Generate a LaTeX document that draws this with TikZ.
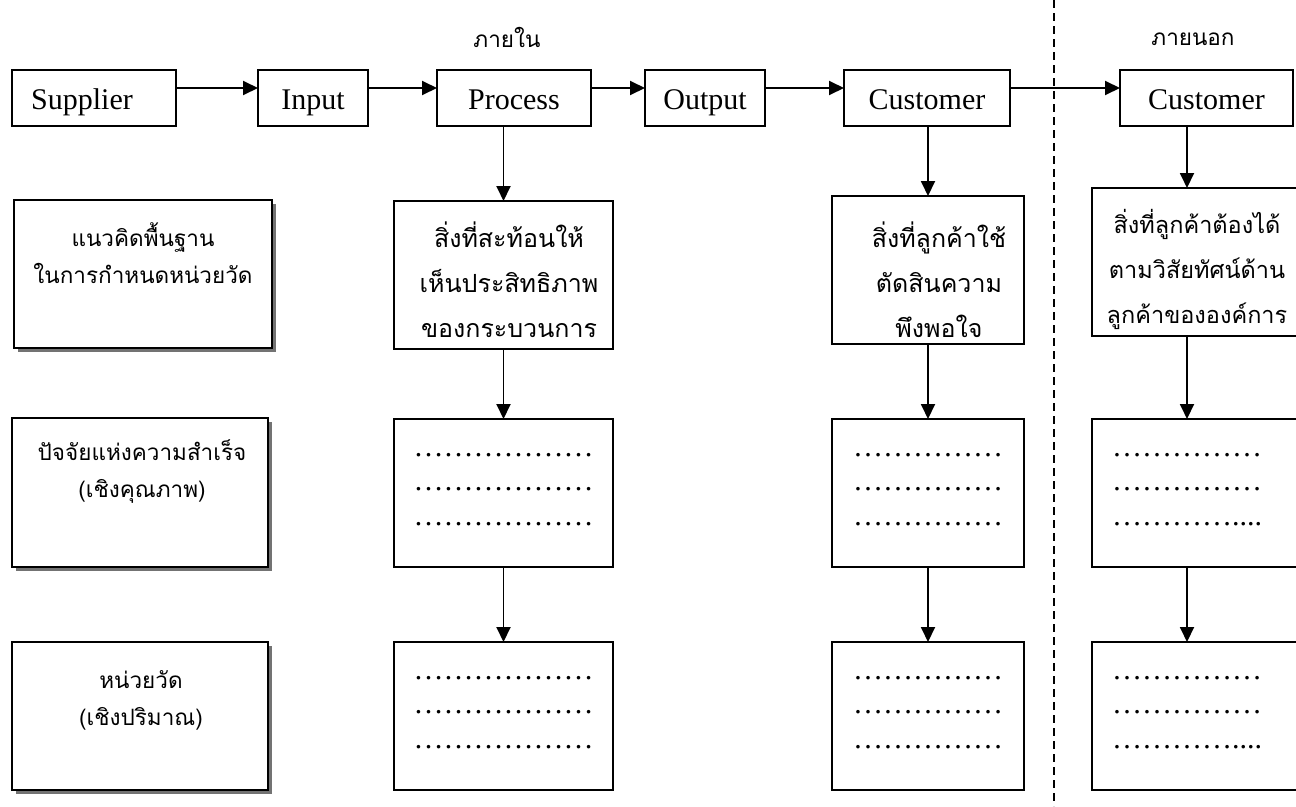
\documentclass[tikz,border=0pt]{standalone}
\usepackage{fontspec}
\setmainfont{Liberation Serif}
\newfontfamily\thai[Script=Thai]{Loma}
\usetikzlibrary{arrows.meta,shadows}
\begin{document}
\begin{tikzpicture}[x=1pt,y=-1pt,
  bx/.style={draw,line width=1.9pt,inner sep=0pt,outer sep=0pt,fill=white},
  topbox/.style={bx,minimum height=56pt,font=\fontsize{30}{36}\selectfont,text height=22pt,text depth=0pt},
  sbx/.style={bx,drop shadow={shadow xshift=4pt,shadow yshift=-4pt,fill=black!55,opacity=1}},
  th/.style={font=\thai\fontsize{22.5}{37}\selectfont,align=center,inner sep=0pt},
  thw/.style={font=\thai\fontsize{25}{45}\selectfont,align=center,inner sep=0pt},
  thr/.style={font=\thai\fontsize{23.5}{45}\selectfont,align=center,inner sep=0pt},
  dts/.style={font=\fontsize{30}{34.5}\selectfont,align=center,inner sep=0pt},
  arr/.style={line width=1.9pt,-{Triangle[length=15pt,width=14pt]}},
  sep/.style={line width=1.4pt,dash pattern=on 8pt off 5pt},
]
\useasboundingbox (0,0) rectangle (1296,806);

% top labels
\node[font=\thai\fontsize{22.5}{30}\selectfont,anchor=base] (inside) at (507,47) {ภายใน};
\node[font=\thai\fontsize{22.5}{30}\selectfont,anchor=base] (outside) at (1193,45) {ภายนอก};

% separator
\coordinate (dtop) at (1054,0);
\coordinate (dbot) at (1054,806);
\draw[sep] (dtop) -- (dbot);

% top row
\node[topbox,minimum width=164pt] (sup) at (94,98) {Supplier\hspace*{24pt}};
\node[topbox,minimum width=110pt] (inp) at (313,98) {Input};
\node[topbox,minimum width=154pt] (proc) at (514,98) {Process};
\node[topbox,minimum width=120pt] (out) at (705,98) {Output};
\node[topbox,minimum width=166pt] (cus1) at (927,98) {Customer};
\node[topbox,minimum width=173pt] (cus2) at (1206.5,98) {Customer};

\draw[arr] ([yshift=10pt]sup.east) -- ([yshift=10pt]inp.west);
\draw[arr] ([yshift=10pt]inp.east) -- ([yshift=10pt]proc.west);
\draw[arr] ([yshift=10pt]proc.east) -- ([yshift=10pt]out.west);
\draw[arr] ([yshift=10pt]out.east) -- ([yshift=10pt]cus1.west);
\draw[arr] ([yshift=10pt]cus1.east) -- ([yshift=10pt]cus2.west);

% left column (shadowed)
\node[sbx,minimum width=258pt,minimum height=148pt] (L2) at (143,274) {};
\node[sbx,minimum width=256pt,minimum height=149pt] (L3) at (140,492.5) {};
\node[sbx,minimum width=256pt,minimum height=148pt] (L4) at (140,716) {};
\node[th,anchor=base] (L2t) at (143,283) {แนวคิดพื้นฐาน\\ในการกำหนดหน่วยวัด};
\node[th,anchor=base] (L3t) at (142,497) {ปัจจัยแห่งความสำเร็จ\\(เชิงคุณภาพ)};
\node[th,anchor=base] (L4t) at (141,725) {หน่วยวัด\\(เชิงปริมาณ)};

% process column
\node[bx,minimum width=219pt,minimum height=148pt] (P2) at (503.5,275) {};
\node[bx,minimum width=219pt,minimum height=148pt] (P3) at (503.5,493) {};
\node[bx,minimum width=219pt,minimum height=148pt] (P4) at (503.5,716) {};
\node[thw,anchor=base] (P2t) at (509,337) {สิ่งที่สะท้อนให้\\เห็นประสิทธิภาพ\\ของกระบวนการ};
\node[dts,anchor=base] (P3t) at (503.5,525) {………………\\………………\\………………};
\node[dts,anchor=base] (P4t) at (503.5,748) {………………\\………………\\………………};

% customer column
\node[bx,minimum width=192pt,minimum height=148pt] (C2) at (928,270) {};
\node[bx,minimum width=192pt,minimum height=148pt] (C3) at (928,493) {};
\node[bx,minimum width=192pt,minimum height=148pt] (C4) at (928,716) {};
\node[thw,anchor=base] (C2t) at (939,337) {สิ่งที่ลูกค้าใช้\\ตัดสินความ\\พึงพอใจ};
\node[dts,anchor=base] (C3t) at (928,525) {……………\\……………\\……………};
\node[dts,anchor=base] (C4t) at (928,748) {……………\\……………\\……………};

% external customer column
\node[bx,minimum width=214pt,minimum height=148pt] (R2) at (1199,262) {};
\node[bx,minimum width=214pt,minimum height=148pt] (R3) at (1199,493) {};
\node[bx,minimum width=214pt,minimum height=148pt] (R4) at (1199,716) {};
\node[thr,anchor=base] (R2t) at (1197,323) {สิ่งที่ลูกค้าต้องได้\\ตามวิสัยทัศน์ด้าน\\ลูกค้าขององค์การ};
\node[dts,anchor=base] (R3t) at (1187,525) {……………\\……………\\…………....};
\node[dts,anchor=base] (R4t) at (1187,748) {……………\\……………\\…………....};
\coordinate (rx) at (1187,0);

% vertical arrows
\draw[arr] (P2.north |- proc.south) -- (P2.north);
\draw[arr] (P2.south) -- (P3.north);
\draw[arr] (P3.south) -- (P4.north);
\draw[arr] (C2.north |- cus1.south) -- (C2.north);
\draw[arr] (C2.south) -- (C3.north);
\draw[arr] (C3.south) -- (C4.north);
\draw[arr] (rx |- cus2.south) -- (rx |- R2.north);
\draw[arr] (rx |- R2.south) -- (rx |- R3.north);
\draw[arr] (rx |- R3.south) -- (rx |- R4.north);
\end{tikzpicture}
\end{document}
